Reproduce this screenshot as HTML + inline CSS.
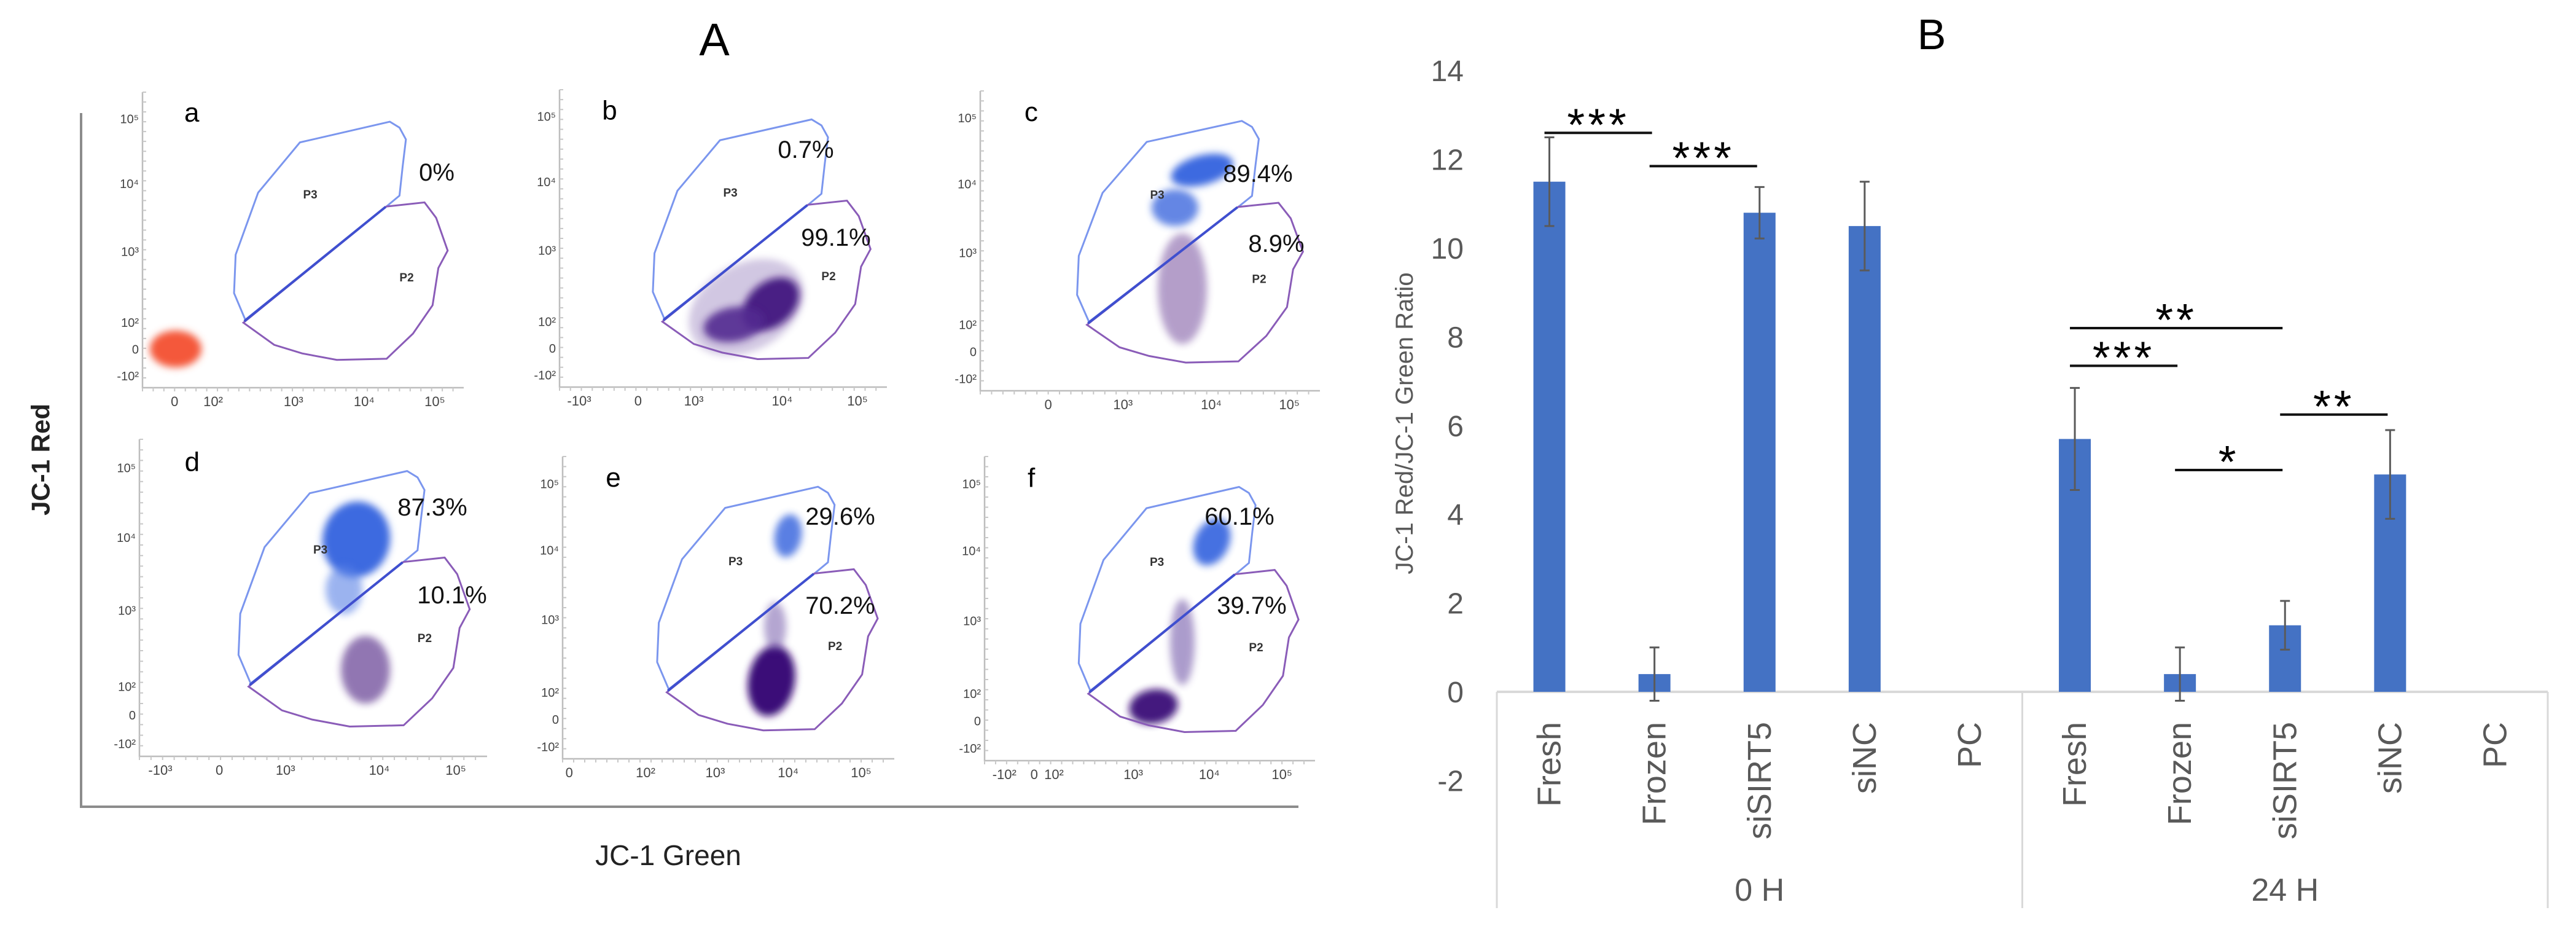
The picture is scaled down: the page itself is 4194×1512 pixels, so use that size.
<!DOCTYPE html>
<html><head><meta charset="utf-8">
<style>
html,body{margin:0;padding:0;background:#fff;}
svg{display:block;font-family:"Liberation Sans",sans-serif;}
</style></head>
<body>
<svg id="fig" width="4194" height="1512" viewBox="0 0 4194 1512" xmlns="http://www.w3.org/2000/svg">
<defs>
<filter id="blur6" x="-50%" y="-50%" width="200%" height="200%"><feGaussianBlur stdDeviation="6"/></filter>
</defs>
<g id="panelA">
<text x="1163" y="90" font-size="74" text-anchor="middle" fill="#000">A</text>
<line x1="132" y1="184" x2="132" y2="1314" stroke="#8c8c8c" stroke-width="4"/>
<line x1="130" y1="1313" x2="2114" y2="1313" stroke="#8c8c8c" stroke-width="4"/>
<text x="66" y="748" font-size="42" font-weight="bold" text-anchor="middle" dominant-baseline="central" transform="rotate(-90 66 748)" fill="#222">JC-1 Red</text>
<text x="1088" y="1408" font-size="46" text-anchor="middle" fill="#222">JC-1 Green</text>
</g>
<g id="panelB"></g>
</svg>
<script>
// ---------- Chart B data ----------
const categories = ["Fresh","Frozen","siSIRT5","siNC","PC","Fresh","Frozen","siSIRT5","siNC","PC"];
const groups = ["0 H","24 H"];
const values = [11.5,0.4,10.8,10.5,0,5.7,0.4,1.5,4.9,0];
const errors = [1.0,0.6,0.58,1.0,0,1.15,0.6,0.55,1.0,0];
const yTicks = [-2,0,2,4,6,8,10,12,14];
// significance brackets
const sigFrom = [0,1,5,5,7,6];
const sigTo = [1,2,7,6,8,7];
const sigStars = ["***","***","**","***","**","*"];
const sigLevel = [12.6,11.85,8.2,7.35,6.25,5.0];

// ---------- Panel A data ----------
const panelLetters = ["a","b","c","d","e","f"];
const p3Pct = ["0%","0.7%","89.4%","87.3%","29.6%","60.1%"];
const p2Pct = ["","99.1%","8.9%","10.1%","70.2%","39.7%"];

const NS="http://www.w3.org/2000/svg";
function mk(tag,attrs,parent,text){const e=document.createElementNS(NS,tag);for(const k in attrs)e.setAttribute(k,attrs[k]);if(text!==undefined)e.textContent=text;parent.appendChild(e);return e;}

// ---------- Chart B ----------
(function(){
const g=document.getElementById('panelB');
const x0=2437, x1=4148, y0=1126, unit=72.2;
const n=categories.length, cw=(x1-x0)/n;
const yS=v=>y0-v*unit;
const xC=i=>x0+cw*(i+0.5);
let t=mk('text',{x:3145,y:80,'font-size':70,'text-anchor':'middle',fill:'#000'},g,'B');


t=mk('text',{x:2287,y:689,'font-size':40,'text-anchor':'middle','dominant-baseline':'central',fill:'#595959',transform:'rotate(-90 2287 689)'},g,'JC-1 Red/JC-1 Green Ratio');


yTicks.forEach(v=>{
  const e=mk('text',{x:2383,y:yS(v)+17,'font-size':48,'text-anchor':'end',fill:'#595959'},g,String(v));
  
  
});
let l=mk('line',{x1:x0,y1:y0,x2:x1,y2:y0,stroke:'#d9d9d9','stroke-width':4},g);


[0,5,10].forEach(i=>{
  const e=mk('line',{x1:x0+cw*i,y1:y0,x2:x0+cw*i,y2:1478,stroke:'#d9d9d9','stroke-width':3},g);
  
  
});
groups.forEach((gr,k)=>{
  const e=mk('text',{x:x0+cw*(k*5+2.5),y:1466,'font-size':52,'text-anchor':'middle',fill:'#595959'},g,gr);
  
  
});
values.forEach((v,i)=>{
  const cx=xC(i);
  if(v>0){
    const r=mk('rect',{x:cx-26,y:yS(v),width:52,height:y0-yS(v),fill:'#4472C4'},g);
    
    
    const e=errors[i];
    const eb=mk('path',{d:`M${cx},${yS(v+e)}V${yS(v-e)}M${cx-8},${yS(v+e)}H${cx+8}M${cx-8},${yS(v-e)}H${cx+8}`,stroke:'#5a5a5a','stroke-width':3,fill:'none'},g);
    
    
  }
  const c=mk('text',{x:cx,y:1175,'font-size':54,'text-anchor':'end','dominant-baseline':'central',fill:'#595959',transform:`rotate(-90 ${cx} 1175)`},g,categories[i]);
  
  
});
sigFrom.forEach((f,k)=>{
  const xa=xC(f)-8, xb=xC(sigTo[k])-4, y=yS(sigLevel[k]);
  const s=mk('line',{x1:xa,y1:y,x2:xb,y2:y,stroke:'#111','stroke-width':4},g);
  
  
  const st=mk('text',{x:(xa+xb)/2,y:y+12,'font-size':74,'text-anchor':'middle',fill:'#000','letter-spacing':'5'},g,sigStars[k]);
  
  
});
})();

// ---------- Panel A flow plots ----------
(function(){
const g=document.getElementById('panelA');
const boxes=[[232,150,523,481],[911,146,533,484],[1596,148,553,488],[227,715,566,516],[916,743,540,492],[1603,743,538,495]];
const P3=[[0.32,0.77],[0.285,0.68],[0.29,0.55],[0.36,0.34],[0.49,0.17],[0.77,0.10],[0.80,0.12],[0.82,0.16],[0.81,0.25],[0.80,0.35],[0.756,0.39]];
const P2=[[0.314,0.78],[0.41,0.855],[0.497,0.884],[0.605,0.906],[0.76,0.902],[0.842,0.817],[0.903,0.721],[0.921,0.595],[0.95,0.536],[0.914,0.425],[0.878,0.373],[0.759,0.387]];
const clusters=[
 [0,286,568,42,30,0,'#f4583a',1],
 [1,1255,495,52,36,-40,'#3b0a78',1],[1,1195,528,50,28,-10,'#4a1a8a',0.9],[1,1215,500,100,70,-30,'#6a4aa0',0.3],
 [2,1957,277,52,24,-15,'#3d6ae0',1],[2,1913,338,38,30,0,'#4a72e0',0.85],[2,1925,470,40,90,0,'#5a2a8a',0.45],
 [3,580,878,55,62,10,'#3d6ae0',1],[3,560,960,30,40,0,'#5a82e6',0.6],[3,595,1090,40,55,0,'#4a1a80',0.6],
 [4,1283,872,22,35,10,'#4a72e0',0.9],[4,1256,1108,38,58,10,'#3b0a78',1],[4,1262,1020,18,40,0,'#5a3a9a',0.45],
 [5,1973,882,28,40,25,'#3d6ae0',0.95],[5,1878,1150,40,28,-10,'#3b0a78',0.95],[5,1925,1045,20,70,0,'#5a3a9a',0.5]
];
const pctPos=[[711,280,0,0],[1312,243,1361,386],[2048,282,2078,396],[704,825,736,968],[1368,840,1368,985],[2018,840,2038,985]];
const xLab=[[["0",0.1],["10²",0.22],["10³",0.47],["10⁴",0.69],["10⁵",0.91]],
 [["-10³",0.06],["0",0.24],["10³",0.41],["10⁴",0.68],["10⁵",0.91]],
 [["0",0.2],["10³",0.42],["10⁴",0.68],["10⁵",0.91]],
 [["-10³",0.06],["0",0.23],["10³",0.42],["10⁴",0.69],["10⁵",0.91]],
 [["0",0.02],["10²",0.25],["10³",0.46],["10⁴",0.68],["10⁵",0.9]],
 [["-10²",0.06],["0",0.15],["10²",0.21],["10³",0.45],["10⁴",0.68],["10⁵",0.9]]];
const yLab=[["10⁵",0.09],["10⁴",0.31],["10³",0.54],["10²",0.78],["0",0.87],["-10²",0.96]];
boxes.forEach((b,i)=>{
  const [bx,by,bw,bh]=b;
  const pg=mk('g',{},g);
  
  
  let a=mk('path',{d:`M${bx},${by}V${by+bh}H${bx+bw}`,stroke:'#bdbdbd','stroke-width':2.5,fill:'none'},pg);
  
  
  let dt='';
  for(let k=0;k<30;k++){dt+=`M${bx},${by+bh*k/30}h6`;dt+=`M${bx+bw*k/30},${by+bh}v6`;}
  const tk=mk('path',{d:dt,stroke:'#c8c8c8','stroke-width':2},pg);
  
  
  yLab.forEach(([s,f])=>{const e=mk('text',{x:bx-6,y:by+bh*f+7,'font-size':20,'text-anchor':'end',fill:'#444'},pg,s);
    
    });
  xLab[i].forEach(([s,f])=>{const e=mk('text',{x:bx+bw*f,y:by+bh+30,'font-size':22,'text-anchor':'middle',fill:'#444'},pg,s);
    
    });
  clusters.filter(c=>c[0]===i).forEach(c=>{
    const e=mk('ellipse',{cx:c[1],cy:c[2],rx:c[3],ry:c[4],fill:c[6],opacity:c[7],filter:'url(#blur6)',transform:`rotate(${c[5]} ${c[1]} ${c[2]})`},pg);
    
    
  });
  const pt=p=>`${bx+p[0]*bw},${by+p[1]*bh}`;
  let e=mk('polygon',{points:P3.map(pt).join(' '),fill:'none',stroke:'#7b96ee','stroke-width':3},pg);
  
  
  e=mk('polygon',{points:P2.map(pt).join(' '),fill:'none',stroke:'#8a5cb8','stroke-width':3},pg);
  
  
  e=mk('line',{x1:bx+0.317*bw,y1:by+0.775*bh,x2:bx+0.757*bw,y2:by+0.388*bh,stroke:'#3f4fcf','stroke-width':4},pg);
  
  
  e=mk('text',{x:bx+0.5*bw,y:by+0.36*bh,'font-size':19,'font-weight':'bold',fill:'#333'},pg,'P3');
  
  
  e=mk('text',{x:bx+0.8*bw,y:by+0.64*bh,'font-size':19,'font-weight':'bold',fill:'#333'},pg,'P2');
  
  
  e=mk('text',{x:bx+0.13*bw,y:by+0.1*bh,'font-size':44,fill:'#000'},pg,panelLetters[i]);
  
  
  const pp=pctPos[i];
  e=mk('text',{x:pp[0],y:pp[1]+14,'font-size':40,'text-anchor':'middle',fill:'#111'},pg,p3Pct[i]);
  
  
  if(p2Pct[i]){
    e=mk('text',{x:pp[2],y:pp[3]+14,'font-size':40,'text-anchor':'middle',fill:'#111'},pg,p2Pct[i]);
    
    
  }
});
})();
</script>
</body></html>
